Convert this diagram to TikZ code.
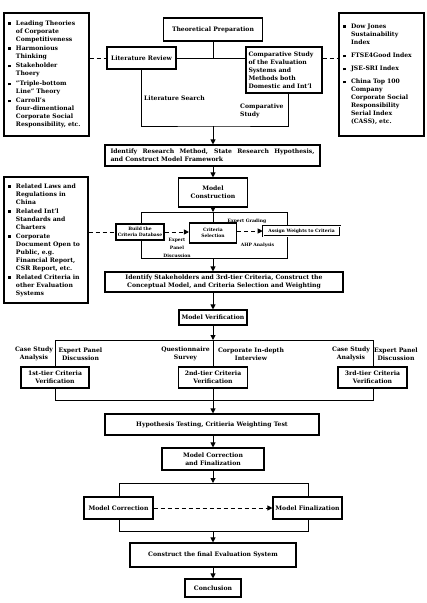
\documentclass[tikz,border=0pt]{standalone}
\usepackage{fontspec}
\setmainfont{DejaVu Serif}
\usetikzlibrary{arrows.meta}
\newcommand\mf{\bfseries\fontsize{6.1}{8}\selectfont}
\newcommand\tf{\bfseries\fontsize{4.5}{6}\selectfont}
\newcommand\blt{\rule[0.5pt]{2.6pt}{2.6pt}}
\newenvironment{blist}{\begin{tabular}{@{}p{8pt}@{}l@{}}}{\end{tabular}}
\begin{document}
\begin{tikzpicture}[x=1pt,y=-1pt,
  every node/.style={font=\mf},
  box/.style={draw, line width=1.1pt, fill=white, inner sep=1pt, align=center},
  lst/.style={draw, line width=1.1pt, fill=white, inner xsep=4pt, inner ysep=2pt, text width=77pt, align=left},
  conn/.style={line width=1pt},
  arr/.style={conn, -{Triangle[length=5pt,width=5pt]}},
  dsh/.style={conn, dash pattern=on 4pt off 3pt},
  darr/.style={dsh, -{Triangle[length=5pt,width=5pt]}},
  lbl/.style={align=center, inner sep=0pt},
  tlbl/.style={align=center, inner sep=0pt, font=\tf}
]
\useasboundingbox (0,0) rectangle (427,603);

% ---------- top section ----------
\node[box, minimum width=99pt, minimum height=23pt] (tp) at (213,29.5) {Theoretical Preparation};
\node[box, minimum width=69pt, minimum height=22pt] (lr) at (141.5,58) {Literature Review};
\node[box, minimum width=76pt, minimum height=46pt, text width=71pt, align=left] (cs) at (284,70)
  {Comparative Study\\of the Evaluation\\Systems and\\Methods both\\Domestic and Int'l};

\node[lst, minimum height=123pt] (lb1) at (46.5,74.5) {\begin{blist}
\blt & Leading Theories\\ & of Corporate\\ & Competitiveness\\[1pt]
\blt & Harmonious\\ & Thinking\\[1.5pt]
\blt & Stakeholder\\ & Thoery\\[2pt]
\blt & "Triple-bottom\\ & Line" Theory\\[1pt]
\blt & Carroll's\\ & four-dimentional\\ & Corporate Social\\ & Responsibility, etc.
\end{blist}};

\node[lst, minimum height=123pt] (rb1) at (381.5,74.5) {\begin{blist}
\blt & Dow Jones\\ & Sustainability\\ & Index\\[5.5pt]
\blt & FTSE4Good Index\\[5pt]
\blt & JSE-SRI Index\\[5pt]
\blt & China Top 100\\ & Company\\ & Corporate Social\\ & Responsibility\\ & Serial Index\\ & (CASS), etc.
\end{blist}};

\coordinate (j1) at (213,126);
\draw[conn] (tp.south) -- (tp.south |- lr.east);
\draw[conn] (lr.east) -- (lr.east -| cs.west);
\draw[dsh] (lr.west -| lb1.east) -- (lr.west);
\draw[dsh] (lr.east -| cs.east) -- (lr.east -| rb1.west);
\draw[conn] (lr.south) |- (j1) -| ([xshift=4pt]cs.south);

\node[lbl, anchor=west] (ls) at (144,98) {Literature Search};
\node[lbl, anchor=west, align=left] (cst) at (240,111) {Comparative\\Study};

\node[box, minimum width=215pt, minimum height=21pt, text width=204pt, align=justify] (id1) at (212.5,155.5)
  {Identify Research Method, State Research Hypothesis,\linebreak and Construct Model Framework};
\draw[arr] (j1) -- (j1 |- id1.north);

\node[box, minimum width=69pt, minimum height=29pt] (mc) at (213,192.5) {Model\\Construction};
\draw[arr] (mc.north |- id1.south) -- (mc.north);

% ---------- criteria section ----------
\coordinate (c1a) at (141,212);
\coordinate (c1b) at (287,258);
\draw[conn] (c1a) rectangle (c1b);
\draw[arr] (mc.south) -- (mc.south |- c1a);

\node[box, font=\tf, minimum width=48pt, minimum height=16pt] (bcd) at (140,232) {Build the\\Criteria Database};
\node[box, font=\tf, minimum width=47pt, minimum height=20pt] (csel) at (213,233) {Criteria\\Selection};
\node[box, font=\tf, minimum width=77pt, minimum height=10pt, double, double distance=0.6pt, line width=0.6pt] (aw) at (301.5,231) {Assign Weights to Criteria};
\draw[conn] (csel.north |- c1a) -- (csel.north);

\node[lst, minimum height=126pt, text width=76pt] (lb2) at (46,240) {\begin{blist}
\blt & Related Laws and\\ & Regulations in\\ & China\\[1pt]
\blt & Related Int'l\\ & Standards and\\ & Charters\\[1pt]
\blt & Corporate\\ & Document Open to\\ & Public, e.g.\\ & Financial Report,\\ & CSR Report, etc.\\[1pt]
\blt & Related Criteria in\\ & other Evaluation\\ & Systems
\end{blist}};

\draw[dsh] (bcd.west -| lb2.east) -- (bcd.west);
\draw[darr] (bcd.east) -- (bcd.east -| csel.west);
\draw[darr] (aw.west -| csel.east) -- (aw.west);

\node[tlbl] (eg) at (247,221) {Expert Grading};
\node[tlbl] (epd) at (177,247.5) {Expert\\[2pt]Panel\\[2pt]Discussion};
\node[tlbl] (ahp) at (257.5,245) {AHP Analysis};

\node[box, minimum width=238pt, minimum height=20pt] (id2) at (224,282)
  {Identify Stakeholders and 3rd-tier Criteria, Construct the\\Conceptual Model, and Criteria Selection and Weighting};
\draw[arr] (csel.south |- c1b) -- (csel.south |- id2.north);

% ---------- verification ----------
\node[box, minimum width=68pt, minimum height=15pt] (mv) at (213,317.5) {Model Verification};
\draw[arr] (mv.north |- id2.south) -- (mv.north);

\coordinate (c2a) at (55,340);
\coordinate (c2b) at (373,400);
\draw[conn] (c2a) rectangle (c2b);
\draw[arr] (mv.south) -- (mv.south |- c2a);
\draw[conn] (mv.south |- c2a) -- (mv.south |- c2b);

\node[box, minimum width=68pt, minimum height=21pt] (t1) at (55,377.5) {1st-tier Criteria\\Verification};
\node[box, minimum width=69pt, minimum height=21pt] (t2) at (213,377.5) {2nd-tier Criteria\\Verification};
\node[box, minimum width=69pt, minimum height=21pt] (t3) at (372.5,377.5) {3rd-tier Criteria\\Verification};

\node[lbl] (l1) at (34,354) {Case Study\\Analysis};
\node[lbl] (l2) at (80.5,354) {Expert Panel\\Discussion};
\node[lbl] (l3) at (185.5,354) {Questionnaire\\Survey};
\node[lbl] (l4) at (251,354) {Corporate In-depth\\Interview};
\node[lbl] (l5) at (351,354) {Case Study\\Analysis};
\node[lbl] (l6) at (396,354) {Expert Panel\\Discussion};

% ---------- bottom ----------
\node[box, minimum width=214pt, minimum height=21pt] (hyp) at (212,424.5) {Hypothesis Testing, Critieria Weighting Test};
\draw[arr] (mv.south |- c2b) -- (mv.south |- hyp.north);

\node[box, minimum width=102pt, minimum height=22pt] (mcf) at (213,459) {Model Correction\\and Finalization};
\draw[arr] (mcf.north |- hyp.south) -- (mcf.north);

\coordinate (c3a) at (119,483);
\coordinate (c3b) at (308,531);
\draw[conn] (c3a) rectangle (c3b);
\draw[arr] (mcf.south) -- (mcf.south |- c3a);

\node[box, minimum width=69pt, minimum height=22pt] (mcor) at (118.5,508) {Model Correction};
\node[box, minimum width=69pt, minimum height=22pt] (mfin) at (307.5,508) {Model Finalization};
\draw[darr] (mcor.east) -- (mfin.west);

\node[box, minimum width=166pt, minimum height=24pt] (cons) at (213,555) {Construct the final Evaluation System};
\draw[arr] (mcf.south |- c3b) -- (cons.north);

\node[box, minimum width=56pt, minimum height=18pt] (concl) at (213,588) {Conclusion};
\draw[arr] (cons.south) -- (concl.north);
\end{tikzpicture}
\end{document}
